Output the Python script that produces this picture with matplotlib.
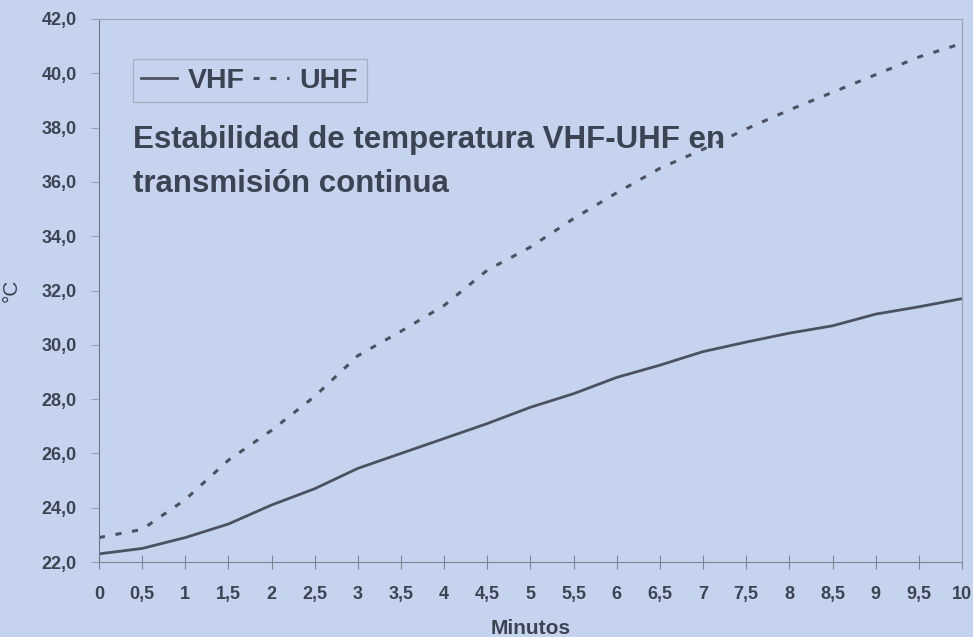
import matplotlib
matplotlib.use('Agg')
import matplotlib.pyplot as plt
from matplotlib.ticker import FuncFormatter

# valores (minutos, grados C)
minutos = [0, 0.5, 1, 1.5, 2, 2.5, 3, 3.5, 4, 4.5, 5, 5.5, 6, 6.5, 7, 7.5, 8, 8.5, 9, 9.5, 10]
vhf = [22.3, 22.5, 22.9, 23.4, 24.1, 24.7, 25.45, 26.0, 26.55, 27.1, 27.7, 28.2, 28.8,
       29.25, 29.75, 30.1, 30.43, 30.7, 31.13, 31.4, 31.7]
uhf = [22.9, 23.2, 24.3, 25.75, 26.85, 28.1, 29.6, 30.5, 31.45, 32.75, 33.6, 34.65, 35.6,
       36.5, 37.2, 37.95, 38.65, 39.3, 39.95, 40.6, 41.1]
yticks = [22, 24, 26, 28, 30, 32, 34, 36, 38, 40, 42]
xtick_labels = ['0', '0,5', '1', '1,5', '2', '2,5', '3', '3,5', '4', '4,5', '5', '5,5',
                '6', '6,5', '7', '7,5', '8', '8,5', '9', '9,5', '10']

bg = '#c6d3ef'
ink = '#3b4452'
line_col = '#4a5262'

plt.rcParams['font.family'] = ['Liberation Sans', 'DejaVu Sans']

fig = plt.figure(figsize=(9.73, 6.37), dpi=100, facecolor=bg)
ax = fig.add_axes([0.1017, 0.1177, 0.887, 0.8525], facecolor=bg)

ax.plot(minutos, vhf, color=line_col, lw=2, label='VHF')
ax.plot(minutos, uhf, color=line_col, lw=2.2, linestyle=(0, (2, 3.5)), label='UHF')

ax.set_xlim(0, 10)
ax.set_ylim(22, 42)
ax.set_xticks(minutos)
ax.set_xticklabels(xtick_labels)
ax.set_yticks(yticks)
ax.yaxis.set_major_formatter(FuncFormatter(lambda v, p: ('%.1f' % v).replace('.', ',')))

for lab in ax.get_xticklabels() + ax.get_yticklabels():
    lab.set_fontweight('bold')
    lab.set_fontsize(13)
    lab.set_color(ink)

ax.tick_params(axis='x', direction='inout', length=10, width=0.8, color='#7d8494', pad=12)
ax.tick_params(axis='y', direction='out', length=6, width=0.8, color='#9aa0b0', pad=10)

for s in ['top', 'right']:
    ax.spines[s].set_color('#9ea4b4')
    ax.spines[s].set_linewidth(0.9)
ax.spines['left'].set_color('#6f7686')
ax.spines['bottom'].set_color('#7d8494')

ax.set_xlabel('Minutos', fontsize=15, fontweight='bold', color=ink, labelpad=12)
ax.set_ylabel('°C', fontsize=15, color=ink)
ax.yaxis.set_label_coords(-0.0904, 0.5)

leg = ax.legend(loc='upper left', bbox_to_anchor=(0.039, 0.926), borderaxespad=0, ncol=2,
                frameon=True, fancybox=False, handlelength=1.25, handletextpad=0.38,
                columnspacing=0.31, borderpad=0.3, prop={'weight': 'bold', 'size': 20.5})
leg.get_frame().set_facecolor(bg)
leg.get_frame().set_edgecolor('#9ea4b4')
leg.get_frame().set_linewidth(0.9)
for t in leg.get_texts():
    t.set_color(ink)

ax.text(0.039, 0.804, 'Estabilidad de temperatura VHF-UHF en\ntransmisión continua',
        transform=ax.transAxes, fontsize=22.5, fontweight='bold', color=ink,
        va='top', ha='left', linespacing=1.6)

fig.savefig('out.png', dpi=100, facecolor=bg)
